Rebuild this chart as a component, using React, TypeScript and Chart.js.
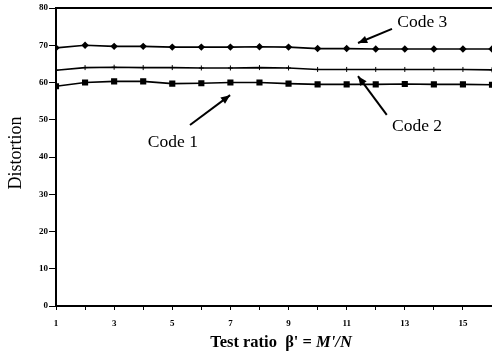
import React, { useEffect, useRef } from "react";
import { Chart, registerables } from "chart.js";

Chart.register(...registerables);

const xValues = [1, 2, 3, 4, 5, 6, 7, 8, 9, 10, 11, 12, 13, 14, 15, 16];
const code1 = [59.0, 60.0, 60.3, 60.3, 59.7, 59.8, 60.0, 60.0, 59.7, 59.5, 59.5, 59.5, 59.6, 59.5, 59.5, 59.4];
const code2 = [63.3, 64.0, 64.1, 64.0, 64.0, 63.9, 63.9, 64.0, 63.9, 63.5, 63.5, 63.5, 63.5, 63.5, 63.5, 63.4];
const code3 = [69.3, 70.0, 69.7, 69.7, 69.5, 69.5, 69.5, 69.6, 69.5, 69.1, 69.1, 69.0, 69.0, 69.0, 69.0, 69.0];

const yTicks = [0, 10, 20, 30, 40, 50, 60, 70, 80];
const xLabelTicks = [1, 3, 5, 7, 9, 11, 13, 15];

const annotations = [
  { text: "Code 3", tx: 13.6, ty: 76.0, ax0: 12.56, ay0: 74.4, ax1: 11.39, ay1: 70.6 },
  { text: "Code 2", tx: 13.42, ty: 48.3, ax0: 12.38, ay0: 51.3, ax1: 11.39, ay1: 61.7 },
  { text: "Code 1", tx: 5.02, ty: 44.0, ax0: 5.61, ay0: 48.6, ax1: 6.99, ay1: 56.6 },
];

const SERIF = "'Liberation Serif', 'DejaVu Serif', serif";

const drawPlugin = {
  id: "decor",
  afterDraw(chart: any) {
    const ctx = chart.ctx;
    const xs = chart.scales.x;
    const ys = chart.scales.y;
    const area = chart.chartArea;
    ctx.save();
    ctx.strokeStyle = "#000";
    ctx.lineWidth = 2;
    ctx.beginPath();
    ctx.moveTo(area.left, area.top);
    ctx.lineTo(area.right, area.top);
    ctx.stroke();

    ctx.fillStyle = "#000";
    ctx.font = `17.5px ${SERIF}`;
    ctx.textAlign = "center";
    ctx.textBaseline = "middle";
    for (const a of annotations) {
      ctx.fillText(a.text, xs.getPixelForValue(a.tx), ys.getPixelForValue(a.ty));
      const x0 = xs.getPixelForValue(a.ax0);
      const y0 = ys.getPixelForValue(a.ay0);
      const x1 = xs.getPixelForValue(a.ax1);
      const y1 = ys.getPixelForValue(a.ay1);
      ctx.lineWidth = 2;
      ctx.beginPath();
      ctx.moveTo(x0, y0);
      ctx.lineTo(x1, y1);
      ctx.stroke();
      const ang = Math.atan2(y1 - y0, x1 - x0);
      const L = 10;
      const W = 0.4;
      ctx.beginPath();
      ctx.moveTo(x1, y1);
      ctx.lineTo(x1 - L * Math.cos(ang - W), y1 - L * Math.sin(ang - W));
      ctx.lineTo(x1 - L * Math.cos(ang + W), y1 - L * Math.sin(ang + W));
      ctx.closePath();
      ctx.fill();
    }

    ctx.save();
    ctx.translate(16, 153);
    ctx.rotate(-Math.PI / 2);
    ctx.font = `18px ${SERIF}`;
    ctx.textAlign = "center";
    ctx.textBaseline = "middle";
    ctx.fillText("Distortion", 0, 0);
    ctx.restore();

    const part1 = "Test ratio  \u03B2' = ";
    const part2 = "M'/N";
    ctx.font = `bold 16.5px ${SERIF}`;
    const w1 = ctx.measureText(part1).width;
    ctx.font = `italic bold 16.5px ${SERIF}`;
    const w2 = ctx.measureText(part2).width;
    const cx = 281;
    const sx = cx - (w1 + w2) / 2;
    ctx.textAlign = "left";
    ctx.textBaseline = "middle";
    ctx.font = `bold 16.5px ${SERIF}`;
    ctx.fillText(part1, sx, 343);
    ctx.font = `italic bold 16.5px ${SERIF}`;
    ctx.fillText(part2, sx + w1, 343);
    ctx.restore();
  },
};

export default function App() {
  const ref = useRef<HTMLCanvasElement>(null);
  useEffect(() => {
    if (!ref.current) return;
    const chart = new Chart(ref.current, {
      type: "line",
      data: {
        datasets: [
          {
            label: "Code 1",
            data: xValues.map((x, i) => ({ x, y: code1[i] })),
            borderColor: "#000",
            backgroundColor: "#000",
            borderWidth: 1.6,
            pointStyle: "rect",
            pointRadius: 3.2,
          },
          {
            label: "Code 2",
            data: xValues.map((x, i) => ({ x, y: code2[i] })),
            borderColor: "#000",
            backgroundColor: "#000",
            borderWidth: 1.6,
            pointStyle: "cross",
            pointRadius: 2.5,
            pointBorderWidth: 1,
          },
          {
            label: "Code 3",
            data: xValues.map((x, i) => ({ x, y: code3[i] })),
            borderColor: "#000",
            backgroundColor: "#000",
            borderWidth: 1.6,
            pointStyle: "rectRot",
            pointRadius: 2.6,
          },
        ],
      },
      options: {
        responsive: false,
        animation: false,
        layout: { autoPadding: false, padding: { top: 8, right: 0, left: 0, bottom: 0 } },
        plugins: { legend: { display: false }, tooltip: { enabled: false } },
        scales: {
          x: {
            type: "linear",
            min: 1,
            max: 16,
            afterFit(scale: any) {
              scale.height = 51;
              scale.paddingRight = 0;
              scale.paddingLeft = 0;
            },
            afterBuildTicks(scale: any) {
              scale.ticks = xValues.map((v) => ({ value: v }));
            },
            ticks: {
              autoSkip: false,
              maxRotation: 0,
              color: "#000",
              padding: 8,
              font: { family: SERIF, size: 9, weight: "bold" },
              callback: (v: any) => (xLabelTicks.includes(Number(v)) ? String(v) : ""),
            },
            grid: { drawOnChartArea: false, tickLength: 4, color: "#000", lineWidth: 1 },
            border: { color: "#000", width: 2 },
          },
          y: {
            min: 0,
            max: 80,
            afterFit(scale: any) {
              scale.width = 56;
            },
            afterBuildTicks(scale: any) {
              scale.ticks = yTicks.map((v) => ({ value: v }));
            },
            ticks: {
              color: "#000",
              padding: 1,
              font: { family: SERIF, size: 9, weight: "bold" },
            },
            grid: { drawOnChartArea: false, tickLength: 7, color: "#000", lineWidth: 1 },
            border: { color: "#000", width: 2 },
          },
        },
      },
      plugins: [drawPlugin],
    });
    return () => chart.destroy();
  }, []);
  return (
    <div style={{ position: "absolute", left: 0, top: 0, width: 492, height: 357, background: "#fff" }}>
      <canvas ref={ref} width={492} height={357} style={{ display: "block" }} />
    </div>
  );
}
